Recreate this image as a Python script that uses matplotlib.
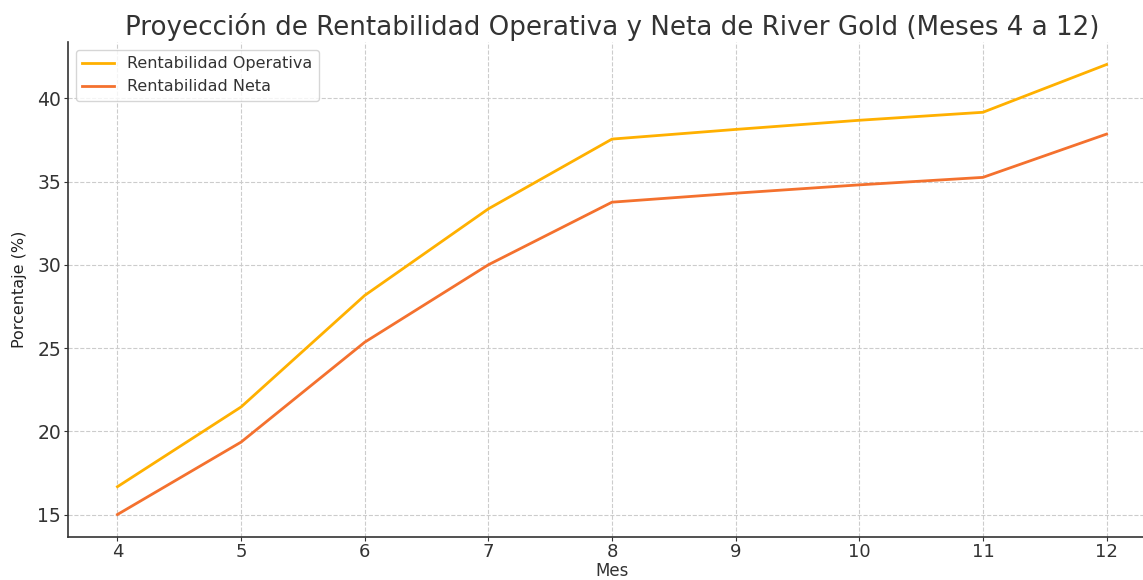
import matplotlib
matplotlib.use("Agg")
import matplotlib.pyplot as plt

# data
meses = [4, 5, 6, 7, 8, 9, 10, 11, 12]
rent_operativa = [16.67, 21.46, 28.16, 33.36, 37.55, 38.13, 38.68, 39.16, 42.03]
rent_neta = [15.0, 19.35, 25.35, 30.0, 33.76, 34.3, 34.8, 35.25, 37.85]

plt.rcParams['font.family'] = 'DejaVu Sans'

fig = plt.figure(figsize=(11.43, 5.8), dpi=100)
ax = fig.add_axes([68 / 1143, 43 / 580, 1088 / 1143, 495 / 580])

ax.plot(meses, rent_operativa, color='#FFB000', lw=2, label='Rentabilidad Operativa')
ax.plot(meses, rent_neta, color='#F4712E', lw=2, label='Rentabilidad Neta')

ax.set_xlim(3.6, 12.4)
ax.set_xticks(meses)
ax.set_yticks([15, 20, 25, 30, 35, 40])
ax.tick_params(labelsize=13.5, colors='#333333', length=3, pad=2)
ax.tick_params(axis='x', labelsize=13, pad=1.5)

ax.grid(True, linestyle='--', color='#cccccc', lw=0.8)
ax.spines['top'].set_visible(False)
ax.spines['right'].set_visible(False)
for s in ['left', 'bottom']:
    ax.spines[s].set_color('#333333')
    ax.spines[s].set_linewidth(1.2)

ax.set_xlabel('Mes', fontsize=12, color='#333333', labelpad=0.5)
ax.set_ylabel('Porcentaje (%)', fontsize=11.5, color='#222222', labelpad=7)
fig.text(612 / 1143, 1 - 27 / 580, 'Proyección de Rentabilidad Operativa y Neta de River Gold (Meses 4 a 12)',
         ha='center', va='center', fontsize=18.8, color='#333333')

leg = ax.legend(loc='upper left', fontsize=11.5, frameon=True)
for t in leg.get_texts():
    t.set_color('#333333')

fig.savefig('out.png', dpi=100)
